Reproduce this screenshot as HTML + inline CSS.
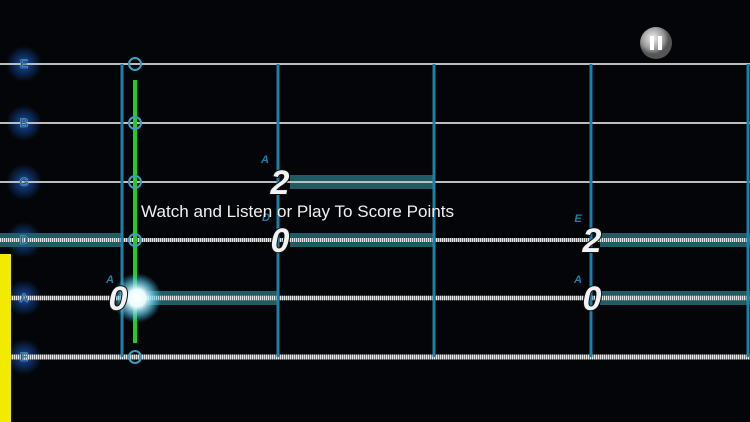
<!DOCTYPE html>
<html><head><meta charset="utf-8"><style>
html,body{margin:0;padding:0;background:#030508;width:750px;height:422px;overflow:hidden}
svg{display:block}
.num{font-family:"Liberation Sans",sans-serif;font-weight:bold;font-style:italic;font-size:34px;fill:#f2f2f2;stroke:#111;stroke-width:2px;paint-order:stroke}
.lab{font-family:"Liberation Sans",sans-serif;font-weight:bold;font-style:italic;font-size:11px;fill:#1e7fb0}
.sn{font-family:"Liberation Sans",sans-serif;font-weight:bold;font-size:12px;fill:#274a68;stroke:#6aa8d8;stroke-width:0.6}
</style></head><body>
<svg width="750" height="422" viewBox="0 0 750 422" xmlns="http://www.w3.org/2000/svg">
<defs>
<radialGradient id="gl"><stop offset="0" stop-color="#1a5fd0" stop-opacity="0.8"/><stop offset="1" stop-color="#1a5fd0" stop-opacity="0"/></radialGradient>
<radialGradient id="wg"><stop offset="0" stop-color="#fff"/><stop offset="0.35" stop-color="#e8fbff"/><stop offset="0.7" stop-color="#5fd0f0" stop-opacity="0.6"/><stop offset="1" stop-color="#3ab0e0" stop-opacity="0"/></radialGradient>
<radialGradient id="pb" cx="0.4" cy="0.35"><stop offset="0" stop-color="#f0f0f0"/><stop offset="0.7" stop-color="#9a9a9a"/><stop offset="1" stop-color="#555"/></radialGradient>
</defs>
<rect width="750" height="422" fill="#030508"/>
<g>
<circle cx="24" cy="64" r="18" fill="url(#gl)"/><circle cx="24" cy="123" r="18" fill="url(#gl)"/>
<circle cx="24" cy="182" r="18" fill="url(#gl)"/><circle cx="24" cy="240" r="18" fill="url(#gl)"/>
<circle cx="24" cy="298" r="18" fill="url(#gl)"/><circle cx="24" cy="357" r="18" fill="url(#gl)"/>
</g>
<g fill="#22666e" opacity="0.9">
<rect x="0" y="233" width="122" height="14"/>
<rect x="290" y="175" width="144" height="14"/>
<rect x="290" y="233" width="144" height="14"/>
<rect x="148" y="291" width="130" height="14"/>
<rect x="600" y="233" width="150" height="14"/>
<rect x="600" y="291" width="150" height="14"/>
</g>
<g stroke="#bdbdbd" stroke-width="2">
<line x1="0" y1="64" x2="750" y2="64"/><line x1="0" y1="123" x2="750" y2="123"/><line x1="0" y1="182" x2="750" y2="182"/>
</g>
<g>
<line x1="0" y1="240" x2="750" y2="240" stroke="#777" stroke-width="4"/>
<line x1="0" y1="298" x2="750" y2="298" stroke="#777" stroke-width="4.5"/>
<line x1="0" y1="357" x2="750" y2="357" stroke="#777" stroke-width="5"/>
</g>
<g stroke-dasharray="1 1" stroke="#e6e6e6">
<line x1="0" y1="240" x2="750" y2="240" stroke-width="4"/>
<line x1="0" y1="298" x2="750" y2="298" stroke-width="4.5"/>
<line x1="0" y1="357" x2="750" y2="357" stroke-width="5"/>
</g>
<g stroke="#1d7fa6" stroke-width="3">
<line x1="122" y1="64" x2="122" y2="357"/><line x1="278" y1="64" x2="278" y2="357"/>
<line x1="434" y1="64" x2="434" y2="357"/><line x1="591" y1="64" x2="591" y2="357"/>
<line x1="748" y1="64" x2="748" y2="357"/>
</g>
<line x1="135" y1="80" x2="135" y2="343" stroke="#22cc22" stroke-width="4"/>
<g fill="none" stroke="#3a9fc0" stroke-width="2">
<circle cx="135" cy="64" r="6"/><circle cx="135" cy="123" r="6"/><circle cx="135" cy="182" r="6"/>
<circle cx="135" cy="240" r="6"/><circle cx="135" cy="357" r="6"/>
</g>
<circle cx="137" cy="298" r="25" fill="url(#wg)"/>
<rect x="0" y="254" width="11" height="168" fill="#f2ea00"/>
<g class="sn" text-anchor="middle">
<text x="24" y="68">E</text><text x="24" y="127">B</text><text x="24" y="186">G</text>
<text x="24" y="244">D</text><text x="24" y="302">A</text><text x="24" y="361">E</text>
</g>
<g class="lab" text-anchor="middle">
<text x="265" y="163">A</text><text x="266" y="221">D</text><text x="578" y="222">E</text>
<text x="110" y="283">A</text><text x="578" y="283">A</text>
</g>
<g class="num" text-anchor="middle">
<text x="280" y="194">2</text><text x="280" y="252">0</text><text x="592" y="252">2</text>
<text x="118" y="310">0</text><text x="592" y="310">0</text>
</g>
<text x="141" y="217" font-family="'Liberation Sans',sans-serif" font-size="17" fill="#f0f0f0" textLength="313" lengthAdjust="spacingAndGlyphs">Watch and Listen or Play To Score Points</text>
<circle cx="656" cy="43" r="16" fill="url(#pb)"/>
<rect x="650" y="36" width="4" height="14" fill="#fff"/><rect x="658" y="36" width="4" height="14" fill="#fff"/>
</svg>
</body></html>
